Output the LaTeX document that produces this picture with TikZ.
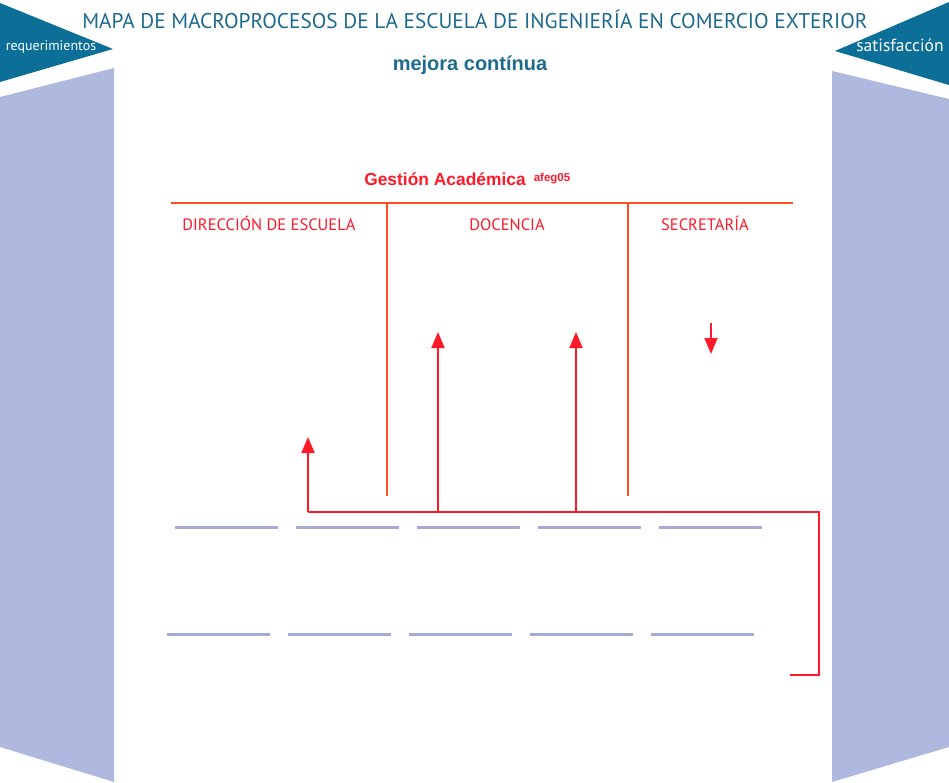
\documentclass[tikz,border=0pt]{standalone}
\usepackage{fontspec}
\setmainfont{PT Sans}
\newfontfamily\arialb{Liberation Sans}
\usetikzlibrary{arrows.meta}
\definecolor{teal1}{HTML}{0B6F97}
\definecolor{panel}{HTML}{AFB9E0}
\definecolor{orl}{HTML}{FF4F22}
\definecolor{redl}{HTML}{FF1A2A}
\definecolor{dashc}{HTML}{A7AAD2}
\definecolor{titc}{HTML}{1D6A8E}
\tikzset{
  orline/.style={draw=orl, line width=1.6pt},
  redline/.style={draw=redl, line width=2pt},
  redarrow/.style={draw=redl, line width=2pt, -{Triangle[width=13pt,length=16pt]}},
  graybar/.style={draw=dashc, line width=3pt},
  lab/.style={text=redl, font=\fontsize{16.5}{18}\selectfont, inner sep=0pt, anchor=base},
}
\begin{document}
\begin{tikzpicture}[x=1pt,y=-1pt]
\useasboundingbox (0,0) rectangle (949,783);
% side panels
\fill[panel] (0,97) -- (114,68) -- (114,782) -- (0,747) -- cycle;
\fill[panel] (832,71) -- (949,99) -- (949,747) -- (832,782) -- cycle;
% top triangles
\fill[teal1] (0,3) -- (113,49) -- (0,82) -- cycle;
\fill[teal1] (949,2) -- (835,51) -- (949,85) -- cycle;
\node[text=white, font=\fontsize{14}{16}\selectfont, inner sep=0pt, anchor=base] (req) at (51,51) {requerimientos};
\node[text=white, font=\fontsize{17.5}{19}\selectfont, inner sep=0pt, anchor=base] (sat) at (900,52) {satisfacción};
% titles
\node[text=titc, font=\fontsize{21.3}{24}\selectfont, inner sep=0pt, anchor=base] (title) at (475,29) {MAPA DE MACROPROCESOS DE LA ESCUELA DE INGENIERÍA EN COMERCIO EXTERIOR};
\node[text=titc, font=\arialb\bfseries\fontsize{20}{22}\selectfont, inner sep=0pt] (mej) at (470,65) {mejora contínua};
\node[text=redl, font=\arialb\bfseries\fontsize{17.4}{20}\selectfont, inner sep=0pt, anchor=base] (ga) at (445,186) {Gestión Académica};
\node[text=redl, font=\arialb\bfseries\fontsize{11.5}{13}\selectfont, inner sep=0pt, anchor=base] (af) at (552,182) {afeg05};
% orange structure
\coordinate (hL) at (171,203);
\coordinate (hR) at (793,203);
\coordinate (v1t) at (387,203);
\coordinate (v1b) at (387,496);
\coordinate (v2t) at (628,203);
\coordinate (v2b) at (628,496);
\draw[orline] (hL) -- (hR);
\draw[orline] (v1t) -- (v1b);
\draw[orline] (v2t) -- (v2b);
\node[lab] (dir) at (269,231) {DIRECCIÓN DE ESCUELA};
\node[lab] (doc) at (507,231) {DOCENCIA};
\node[lab] (sec) at (705,231) {SECRETARÍA};
% red flow
\coordinate (a0) at (308,512);
\coordinate (a0t) at (308,437);
\coordinate (a1) at (438,512);
\coordinate (a1t) at (438,332);
\coordinate (a2) at (576,512);
\coordinate (a2t) at (576,332);
\coordinate (c1) at (819,512);
\coordinate (c2) at (819,675);
\coordinate (c3) at (790,675);
\coordinate (d0) at (711,323);
\coordinate (d1) at (711,354);
\draw[redline] (a0) -- (c1) -- (c2) -- (c3);
\draw[redarrow] (a0) -- (a0t);
\draw[redarrow] (a1) -- (a1t);
\draw[redarrow] (a2) -- (a2t);
\draw[redarrow] (d0) -- (d1);
% gray bars
\foreach \x in {175,296,417,538,659} {\draw[graybar] (\x,527) -- ++(103,0);}
\foreach \x in {167,288,409,530,651} {\draw[graybar] (\x,634) -- ++(103,0);}
\end{tikzpicture}
\end{document}
